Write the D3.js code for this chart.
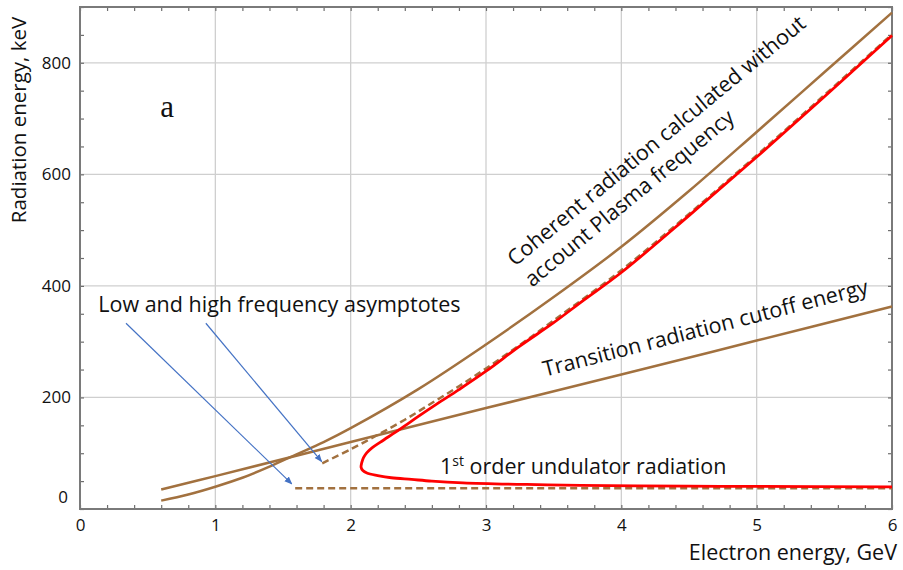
<!DOCTYPE html>
<html>
<head>
<meta charset="utf-8">
<script src="https://cdn.jsdelivr.net/npm/d3@7"></script>
<style>
  body { margin: 0; background: #fff; }
  text { font-family: "Open Sans", sans-serif; fill: #111; }
</style>
</head>
<body>
<script>
// axis ticks
const xTicks = [0, 1, 2, 3, 4, 5, 6];
const yTicks = [0, 200, 400, 600, 800];

// Coherent radiation (without plasma frequency)
const coherentE = [0.6, 0.8, 1.0, 1.2, 1.4, 1.6, 1.8, 2.0, 2.5, 3.0, 3.5, 4.0, 4.5, 5.0, 5.5, 6.0];
const coherentKeV = [15, 26, 40, 56, 76, 98, 120, 145, 215, 295, 380, 470, 570, 676, 783, 890];

// Transition radiation cutoff energy
const transitionE = [0.6, 1, 2, 3, 4, 5, 6];
const transitionKeV = [35, 59, 120, 181, 241, 302, 363];

// 1st order undulator radiation (lower branch -> turning point -> upper branch)
const undulatorE = [6.0, 5.0, 4.5, 3.7, 3.3, 2.83, 2.6, 2.45, 2.3, 2.2, 2.12, 2.09, 2.077, 2.082, 2.095, 2.12, 2.16, 2.22, 2.37, 2.5, 2.635, 2.8, 3.0, 3.25, 3.5, 3.72, 4.0, 4.5, 5.0, 5.5, 6.0];
const undulatorKeV = [39.5, 40.5, 41, 42.5, 44, 47, 50, 53, 56, 60, 64.5, 69, 75, 83, 92, 101, 110, 120, 144, 166, 188, 214, 247, 292, 334, 374, 424, 526, 631, 739, 849];

// asymptotes (dashed)
const lowAsymE = [1.59, 6.0];
const lowAsymKeV = [37, 37];
const highAsymE = [1.79, 2.0, 2.2, 2.4, 2.6, 2.8, 3.0, 3.25, 3.5, 4.0, 4.5, 5.0, 5.5, 6.0];
const highAsymKeV = [82, 107, 133, 160, 190, 220, 252, 294, 338, 428, 529, 634, 742, 851];

// arrows: [startE, startKeV, endE, endKeV]
const arrows = [[0.34, 333, 1.565, 45], [0.93, 333, 1.786, 85]];

const width = 903;
const height = 570;
const brown = "#a2713f";
const labelSize = "21.5px";

const svg = d3.select("body")
    .append("svg")
    .attr("width", width)
    .attr("height", height);

const x = d3.scaleLinear().domain([0, 6]).range([80, 892]);
const y = d3.scaleLinear().domain([0, 900]).range([509, 7]);

// grid
svg.append("g")
    .selectAll("line")
    .data(xTicks.slice(1, -1))
    .join("line")
    .attr("x1", d => x(d)).attr("x2", d => x(d))
    .attr("y1", y(0)).attr("y2", y(900))
    .attr("stroke", "#cfcfcf").attr("stroke-width", 1.3);
svg.append("g")
    .selectAll("line")
    .data(yTicks.slice(1))
    .join("line")
    .attr("x1", x(0)).attr("x2", x(6))
    .attr("y1", d => y(d)).attr("y2", d => y(d))
    .attr("stroke", "#cfcfcf").attr("stroke-width", 1.3);

// minor ticks on all four sides, pointing inward
const minorX = d3.range(0, 6.001, 0.2);
const minorY = d3.range(0, 900.1, 50);
function tickAxis(axis, tr) {
    const g = svg.append("g")
        .attr("transform", tr)
        .call(axis.tickSize(4).tickSizeOuter(0).tickFormat(""));
    g.select(".domain").remove();
    g.selectAll("line").attr("stroke", "#6e6e6e").attr("stroke-width", 1.2);
}
tickAxis(d3.axisTop(x).tickValues(minorX), `translate(0,${y(0)})`);
tickAxis(d3.axisBottom(x).tickValues(minorX), `translate(0,${y(900)})`);
tickAxis(d3.axisRight(y).tickValues(minorY), `translate(${x(0)},0)`);
tickAxis(d3.axisLeft(y).tickValues(minorY), `translate(${x(6)},0)`);

// frame
svg.append("rect")
    .attr("x", x(0)).attr("y", y(900))
    .attr("width", x(6) - x(0)).attr("height", y(0) - y(900))
    .attr("fill", "none").attr("stroke", "#7a7a7a").attr("stroke-width", 2);

// tick labels
const xLab = svg.append("g")
    .attr("transform", `translate(0,${y(0)})`)
    .call(d3.axisBottom(x).tickValues(xTicks).tickSize(0).tickPadding(10).tickFormat(d3.format("d")));
xLab.select(".domain").remove();
xLab.selectAll("text").style("font-size", "17px").style("font-family", "'Open Sans', sans-serif").attr("fill", "#111");

const yLab = svg.append("g")
    .attr("transform", `translate(${x(0)},0)`)
    .call(d3.axisLeft(y).tickValues(yTicks).tickSize(0).tickPadding(9).tickFormat(d3.format("d")));
yLab.select(".domain").remove();
yLab.selectAll("text").style("font-size", "17px").style("font-family", "'Open Sans', sans-serif").attr("fill", "#111");
// zero label sits a bit above the axis line
yLab.selectAll(".tick").filter(d => d === 0).select("text").attr("y", -12).attr("x", -12);

// axis titles
svg.append("text")
    .attr("x", 897).attr("y", 560)
    .attr("text-anchor", "end")
    .style("font-size", labelSize)
    .text("Electron energy, GeV");
svg.append("text")
    .attr("transform", "translate(26,120) rotate(-90)")
    .attr("text-anchor", "middle")
    .style("font-size", "20.5px")
    .text("Radiation energy, keV");

// curves
const line = d3.line()
    .x(d => x(d[0]))
    .y(d => y(d[1]))
    .curve(d3.curveCatmullRom);

const zip = (a, b) => a.map((v, i) => [v, b[i]]);

svg.append("path")
    .datum(zip(lowAsymE, lowAsymKeV))
    .attr("d", line).attr("fill", "none")
    .attr("stroke", brown).attr("stroke-width", 2.5)
    .attr("stroke-dasharray", "7,4");
svg.append("path")
    .datum(zip(highAsymE, highAsymKeV))
    .attr("d", line).attr("fill", "none")
    .attr("stroke", brown).attr("stroke-width", 2.5)
    .attr("stroke-dasharray", "7,4");
svg.append("path")
    .datum(zip(coherentE, coherentKeV))
    .attr("d", line).attr("fill", "none")
    .attr("stroke", brown).attr("stroke-width", 2.5);
svg.append("path")
    .datum(zip(transitionE, transitionKeV))
    .attr("d", line).attr("fill", "none")
    .attr("stroke", brown).attr("stroke-width", 2.5);
svg.append("path")
    .datum(zip(undulatorE, undulatorKeV))
    .attr("d", line).attr("fill", "none")
    .attr("stroke", "#ff0000").attr("stroke-width", 2.8);

// arrows
svg.append("defs").append("marker")
    .attr("id", "head")
    .attr("viewBox", "0 0 10 10")
    .attr("refX", 9).attr("refY", 5)
    .attr("markerWidth", 8).attr("markerHeight", 8)
    .attr("markerUnits", "userSpaceOnUse")
    .attr("orient", "auto")
    .append("path")
    .attr("d", "M0,1L10,5L0,9Z")
    .attr("fill", "#4472c4");
svg.append("g")
    .selectAll("line")
    .data(arrows)
    .join("line")
    .attr("x1", d => x(d[0])).attr("y1", d => y(d[1]))
    .attr("x2", d => x(d[2])).attr("y2", d => y(d[3]))
    .attr("stroke", "#4472c4").attr("stroke-width", 1.2)
    .attr("marker-end", "url(#head)");

// annotations
svg.append("text")
    .attr("x", x(0.643)).attr("y", y(703))
    .attr("text-anchor", "middle")
    .style("font-family", "'Liberation Serif', serif")
    .style("font-size", "31px")
    .text("a");

svg.append("text")
    .attr("x", x(0.135)).attr("y", y(353))
    .style("font-size", labelSize)
    .text("Low and high frequency asymptotes");

const und = svg.append("text")
    .attr("x", x(2.66)).attr("y", y(62))
    .style("font-size", labelSize);
und.append("tspan").text("1");
und.append("tspan").attr("dy", -8).style("font-size", "14px").text("st");
und.append("tspan").attr("dy", 8).text(" order undulator radiation");

svg.append("text")
    .attr("transform", `translate(${x(3.436)},${y(237)}) rotate(-14.4)`)
    .style("font-size", labelSize)
    .text("Transition radiation cutoff energy");

const coh = svg.append("text")
    .attr("transform", `translate(${x(3.214)},${y(434)}) rotate(-39.5)`)
    .style("font-size", labelSize);
coh.append("tspan").attr("x", 0).attr("y", 0).text("Coherent radiation calculated without");
coh.append("tspan").attr("x", 0).attr("y", 27).text("account Plasma frequency");
</script>
</body>
</html>
